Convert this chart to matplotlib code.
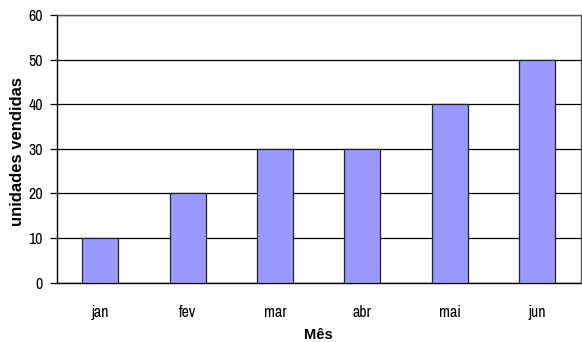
import matplotlib
matplotlib.use("Agg")
import matplotlib.pyplot as plt
import numpy as np

months = ["jan", "fev", "mar", "abr", "mai", "jun"]
units_sold = [10, 20, 30, 30, 40, 50]
y_ticks = [0, 10, 20, 30, 40, 50, 60]

narrow = ["Archivo Narrow", "Liberation Sans", "DejaVu Sans"]
regular = ["Liberation Sans", "DejaVu Sans"]
plt.rcParams["font.family"] = narrow

fig = plt.figure(figsize=(5.82, 3.42), dpi=100)
ax = fig.add_axes([56.7 / 582, 1 - 282.7 / 342, 524 / 582, 267.7 / 342])

x = np.arange(len(months))
ax.bar(x, units_sold, width=0.41, color="#9999FF", edgecolor="#222222",
       linewidth=0.9, zorder=3)

ax.set_xlim(-0.5, len(months) - 0.5)
ax.set_ylim(0, 60)
ax.set_yticks(y_ticks)
ax.yaxis.grid(True, color="black", linewidth=0.9, zorder=0)
ax.set_axisbelow(True)

ax.set_xticks(x)
ax.set_xticklabels(months, fontsize=11.5)
ax.tick_params(axis="x", length=0, pad=16)
ax.tick_params(axis="y", length=5, width=0.9, labelsize=11.5, pad=5)

for side in ["left", "bottom"]:
    ax.spines[side].set_linewidth(1.0)
    ax.spines[side].set_color("black")
for side in ["top", "right"]:
    ax.spines[side].set_linewidth(1.0)
    ax.spines[side].set_color("#555555")

ax.set_xlabel("Mês", fontsize=10.5, fontweight="bold", labelpad=6, family=regular)
ax.set_ylabel("unidades vendidas", fontsize=12, fontweight="bold", family=regular)
ax.yaxis.set_label_coords(-0.061, 0.49)

fig.savefig("out.png", dpi=100)
